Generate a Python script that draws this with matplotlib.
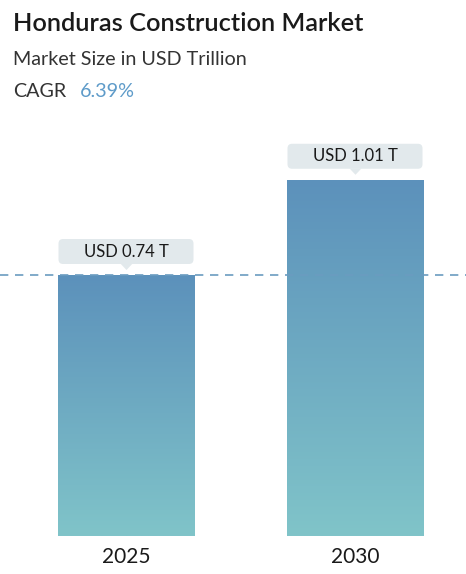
import numpy as np
import matplotlib.pyplot as plt
from matplotlib.patches import FancyBboxPatch, Polygon, Rectangle
from matplotlib.colors import LinearSegmentedColormap

plt.rcParams['font.family'] = ['Lato', 'DejaVu Sans']

# data
years = ['2025', '2030']
values = [0.74, 1.01]
labels = ['USD 0.74 T', 'USD 1.01 T']
cagr = '6.39%'

W, H = 466, 574
fig = plt.figure(figsize=(W / 100, H / 100), dpi=100)

# axes laid out in pixel terms
bottom_px, top_px = 536, 130
ax = fig.add_axes([0, (H - bottom_px) / H, 1, (bottom_px - top_px) / H])
px_y = 261 / 0.74          # pixels per unit
px_x = 229                 # pixels between bar centres
ax.set_ylim(0, (bottom_px - top_px) / px_y)
ax.set_xlim(-126.5 / px_x, 1 + (W - 355.5) / px_x)
ax.axis('off')

cmap = LinearSegmentedColormap.from_list('bar', ['#80c4c9', '#5c91bb'])
grad = np.linspace(0, 1, 256).reshape(-1, 1)
bar_w = 137 / px_x

x = np.arange(len(years))
for i, (xi, v) in enumerate(zip(x, values)):
    rect = Rectangle((xi - bar_w / 2, 0), bar_w, v, facecolor='none', edgecolor='none')
    ax.add_patch(rect)
    im = ax.imshow(grad, cmap=cmap, origin='lower', aspect='auto',
                   extent=(xi - bar_w / 2, xi + bar_w / 2, 0, v), zorder=1)
    im.set_clip_path(rect)

    # label box with pointer
    bw, bh = 135 / px_x, 25 / px_y
    gap = 11 / px_y
    box = FancyBboxPatch((xi - 0.5 / px_x - bw / 2, v + gap), bw, bh,
                         boxstyle='round,pad=0,rounding_size=0.02',
                         mutation_aspect=px_x / px_y,
                         facecolor='#e2e9ec', edgecolor='none', zorder=3)
    ax.add_patch(box)
    tri = Polygon([(xi - 6 / px_x, v + gap + 0.001), (xi + 6 / px_x, v + gap + 0.001),
                   (xi, v + 5 / px_y)], closed=True, facecolor='#e2e9ec',
                  edgecolor='none', zorder=3)
    ax.add_patch(tri)
    ax.text(xi - 0.5 / px_x, v + gap + bh / 2, labels[i], ha='center', va='center',
            fontsize=12, color='#1a1a1a', zorder=4)

    ax.text(xi, -21 / px_y, years[i], ha='center', va='center',
            fontsize=15, color='#1a1a1a', clip_on=False)

ax.axhline(values[0], color='#6b9cc0', lw=1.2, ls=(0, (5, 4)), zorder=2)

# header text
fig.text(13 / W, 1 - 31 / H, 'Honduras Construction Market', fontsize=18.3,
         fontweight='semibold', color='#1a1a1a', va='baseline')
fig.text(13 / W, 1 - 65 / H, 'Market Size in USD Trillion', fontsize=14.2,
         color='#333333', va='baseline')
fig.text(13 / W, 1 - 97 / H, 'CAGR', fontsize=14.2, color='#333333', va='baseline')
fig.text(80 / W, 1 - 97 / H, cagr, fontsize=14.2, color='#5e9bc9', va='baseline')

fig.savefig('out.png', dpi=100)
